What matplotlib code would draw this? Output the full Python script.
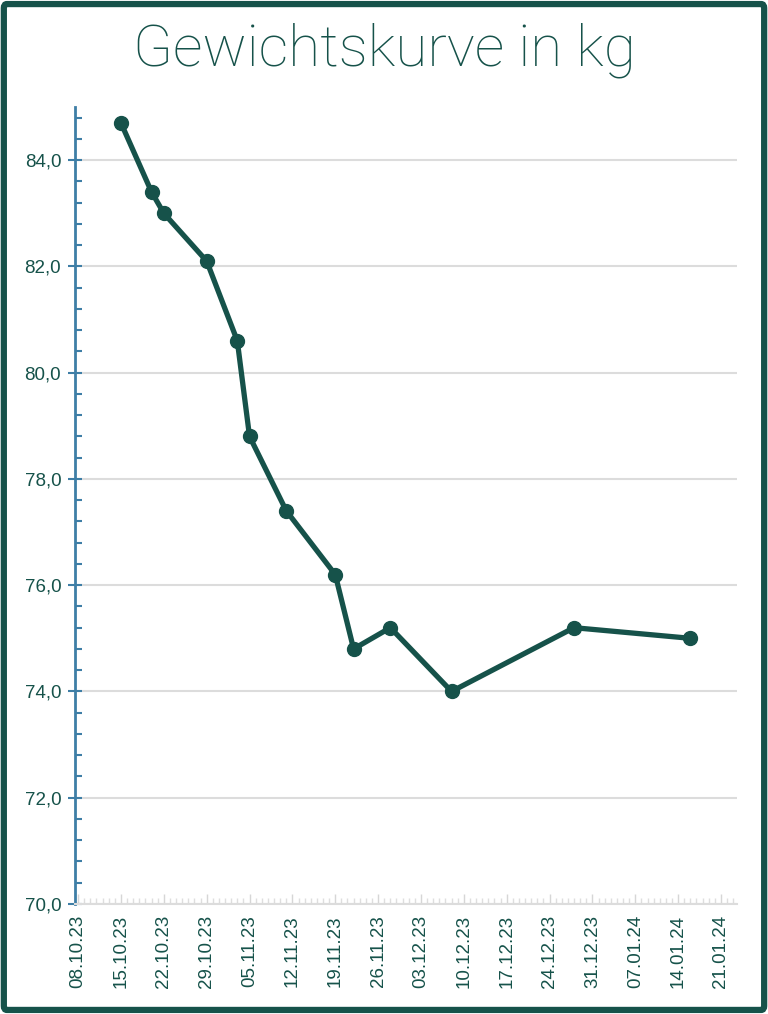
import matplotlib
matplotlib.use("Agg")
import matplotlib.pyplot as plt
import matplotlib.dates as mdates
import matplotlib.patches as mpatches
from matplotlib.ticker import MultipleLocator, FuncFormatter
import pandas as pd

# weight measurements
dates = ["15.10.23", "20.10.23", "22.10.23", "29.10.23", "03.11.23", "05.11.23",
         "11.11.23", "19.11.23", "22.11.23", "28.11.23", "08.12.23", "28.12.23",
         "16.01.24"]
weights = [84.7, 83.4, 83.0, 82.1, 80.6, 78.8, 77.4, 76.2, 74.8, 75.2, 74.0, 75.2, 75.0]

title = "Gewichtskurve in kg"

green = "#16524A"
blue = "#3E7EA6"
grid_gray = "#dcdcdc"

plt.rcParams["font.family"] = ["Liberation Sans", "DejaVu Sans"]

x = pd.to_datetime(dates, format="%d.%m.%y")

fig = plt.figure(figsize=(7.68, 10.14), dpi=100)
ax = fig.add_axes([0.0977, 0.1085, 0.862, 0.786])

ax.plot(x, weights, color=green, lw=3.8, marker="o", markersize=10,
        solid_joinstyle="round", zorder=3, clip_on=False)

# axis ranges
ax.set_ylim(70, 85)
ax.set_xlim(pd.Timestamp("2023-10-07 12:00"), pd.Timestamp("2024-01-23 15:00"))

# y axis styling
ax.yaxis.set_major_locator(MultipleLocator(2))
ax.yaxis.set_minor_locator(MultipleLocator(0.4))
ax.yaxis.set_major_formatter(FuncFormatter(lambda v, p: f"{v:.1f}".replace(".", ",")))
ax.tick_params(axis="y", which="major", direction="inout", length=10, width=1.5,
               color=blue, labelcolor=green, labelsize=13.5, pad=5)
ax.tick_params(axis="y", which="minor", direction="in", length=5, width=1.5, color=blue)
ax.grid(axis="y", which="major", color=grid_gray, lw=1.5)
ax.set_axisbelow(True)

# x axis styling
ax.xaxis.set_major_locator(mdates.WeekdayLocator(byweekday=mdates.SU))
ax.xaxis.set_minor_locator(mdates.DayLocator())
ax.xaxis.set_major_formatter(mdates.DateFormatter("%d.%m.%y"))
ax.tick_params(axis="x", which="major", direction="in", length=7, width=1,
               color="#d6d6d6", labelcolor=green, labelsize=13.5, labelrotation=90, pad=8)
ax.tick_params(axis="x", which="minor", direction="in", length=4, width=1, color="#dedede")

for s in ["top", "right"]:
    ax.spines[s].set_visible(False)
ax.spines["left"].set_color(blue)
ax.spines["left"].set_linewidth(2)
ax.spines["bottom"].set_color(grid_gray)
ax.spines["bottom"].set_linewidth(1.5)

fig.text(0.5, 0.950, title, ha="center", va="center", fontsize=42,
         color=green, family="Roboto", fontweight="light")

# frame around the whole picture
frame = mpatches.FancyBboxPatch((0.005, 0.004), 0.99, 0.992,
                                boxstyle="round,pad=0,rounding_size=0.004",
                                transform=fig.transFigure, fill=False,
                                edgecolor=green, lw=4.5)
fig.patches.append(frame)

fig.savefig("out.png", dpi=100, facecolor="white")
